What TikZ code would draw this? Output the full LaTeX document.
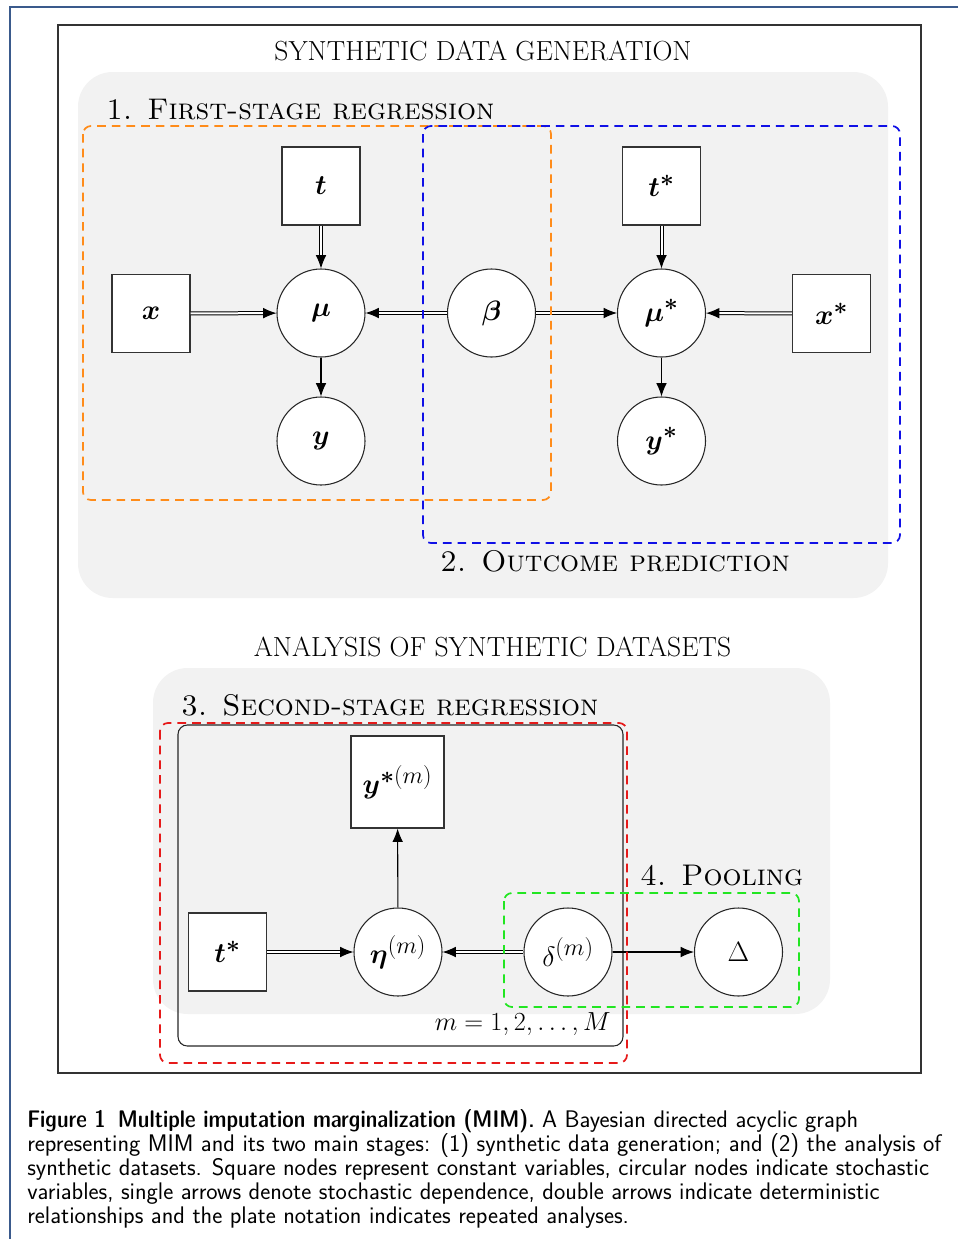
\RequirePackage{fix-cm}
\documentclass[tikz,border=0pt]{standalone}
\usepackage{amsmath,bm}
\usetikzlibrary{arrows.meta}
\definecolor{bggray}{HTML}{F2F2F2}
\definecolor{borderblue}{HTML}{3A5A8C}
\definecolor{myorange}{HTML}{FF8C1A}
\definecolor{myblue}{HTML}{1010E6}
\definecolor{myred}{HTML}{E61A1A}
\definecolor{mygreen}{HTML}{22E622}
\DeclareMathSizes{21}{21}{18}{14}
\newcommand{\nodefont}{\fontsize{21}{25}\selectfont}
\newcommand{\platefont}{\fontsize{19.6}{23}\selectfont}
\newcommand{\headfont}{\fontsize{20.7}{24}\selectfont}
\newcommand{\labfont}{\fontsize{22.4}{26}\selectfont\scshape}
\newcommand{\capfont}{\fontsize{18}{21}\selectfont\sffamily}
\newcommand{\capbold}[1]{{\fontseries{sbc}\selectfont #1}}
\begin{document}
\begin{tikzpicture}[x=0.75pt,y=-0.75pt,
  sqnode/.style={draw=black!80, fill=white, line width=0.8pt, minimum size=58.5pt, inner sep=0pt, font=\nodefont},
  circnode/.style={circle, draw=black!85, fill=white, line width=0.8pt, minimum size=66pt, inner sep=0pt, font=\nodefont},
  dblarrow/.style={double, double distance=1.5pt, line width=0.75pt, -{Latex[length=10pt,width=8pt]}},
  sglarrow/.style={line width=0.8pt, -{Latex[length=10pt,width=8pt]}},
  dashbox/.style={line width=1.3pt, dash pattern=on 6.5pt off 4.5pt, rounded corners=6pt},
  bgbox/.style={fill=bggray, rounded corners=26pt},
  heading/.style={anchor=base, inner sep=0pt, font=\headfont},
  seclabel/.style={anchor=base west, inner sep=0pt, font=\labfont},
  capline/.style={anchor=base west, inner sep=0pt, font=\capfont}
]
\useasboundingbox (0,0) rectangle (958,1239);
% page border
\draw[borderblue, line width=0.9pt] (958,7) -- (10,7) -- (10,1239);
% inner frame
\draw[black!80, line width=0.9pt] (58,25) rectangle (921,1073);
% backgrounds
\fill[bgbox] (78,72) rectangle (888,598);
\fill[bgbox] (153,668) rectangle (830,1014);
% headings
\node[heading] (h1) at (483,60) {SYNTHETIC DATA GENERATION};
\node[heading] (h2) at (492.5,656) {ANALYSIS OF SYNTHETIC DATASETS};
\node[seclabel] (s1) at (106,119) {1. First-stage regression};
\node[seclabel] (s2) at (440,571) {2. Outcome prediction};
\node[seclabel] (s3) at (181,715) {3. Second-stage regression};
\node[seclabel] (s4) at (640,885) {4. Pooling};
% plate
\draw[black!85, line width=0.8pt, rounded corners=7pt] (178,725) rectangle (623,1046);
\node[anchor=base east, inner sep=0pt, font=\platefont] (plate) at (611,1030) {$m = 1, 2, \ldots, M$};
% top nodes
\node[sqnode] (t) at (321,186) {$\bm{t}$};
\node[sqnode] (x) at (151,313.5) {$\bm{x}$};
\node[circnode] (mu) at (321,313) {$\bm{\mu}$};
\node[circnode] (beta) at (491.5,313) {$\bm{\beta}$};
\node[circnode] (mus) at (661.5,313) {$\bm{\mu}^{\bm{*}}$};
\node[sqnode] (ts) at (661.5,186) {$\bm{t}^{\bm{*}}$};
\node[sqnode] (xs) at (831.5,313.5) {$\bm{x}^{\bm{*}}$};
\node[circnode] (y) at (321,441) {$\bm{y}$};
\node[circnode] (ys) at (661.5,441) {$\bm{y}^{\bm{*}}$};
% bottom nodes
\node[sqnode, minimum width=69.75pt, minimum height=69pt] (ysm) at (397.5,782) {$\bm{y}^{\bm{*}(m)}$};
\node[sqnode] (ts2) at (227.5,952) {$\bm{t}^{\bm{*}}$};
\node[circnode] (eta) at (398,952) {$\bm{\eta}^{(m)}$};
\node[circnode] (delta) at (568,952) {$\delta^{(m)}$};
\node[circnode] (Delta) at (738.5,952) {$\Delta$};
% edges
\draw[dblarrow] (t) -- (mu);
\draw[dblarrow] (x) -- (mu);
\draw[dblarrow] (beta) -- (mu);
\draw[dblarrow] (beta) -- (mus);
\draw[dblarrow] (ts) -- (mus);
\draw[dblarrow] (xs) -- (mus);
\draw[sglarrow] (mu) -- (y);
\draw[sglarrow] (mus) -- (ys);
\draw[sglarrow] (eta) -- (ysm);
\draw[dblarrow] (ts2) -- (eta);
\draw[dblarrow] (delta) -- (eta);
\draw[sglarrow] (delta) -- (Delta);
% dashed boxes
\draw[dashbox, myorange] (83,126) rectangle (551,500);
\draw[dashbox, myblue] (423,126) rectangle (900,543);
\draw[dashbox, myred] (160,723) rectangle (627,1063);
\draw[dashbox, mygreen] (504,893) rectangle (799,1007);
% caption
\node[capline] (c1) at (27,1127) {\capbold{Figure 1\hspace{0.5em}Multiple imputation marginalization (MIM).} A Bayesian directed acyclic graph};
\node[capline] (c2) at (27,1151) {representing MIM and its two main stages: (1) synthetic data generation; and (2) the analysis of};
\node[capline] (c3) at (27,1175) {synthetic datasets. Square nodes represent constant variables, circular nodes indicate stochastic};
\node[capline] (c4) at (27,1199) {variables, single arrows denote stochastic dependence, double arrows indicate deterministic};
\node[capline] (c5) at (27,1223) {relationships and the plate notation indicates repeated analyses.};
\end{tikzpicture}
\end{document}
